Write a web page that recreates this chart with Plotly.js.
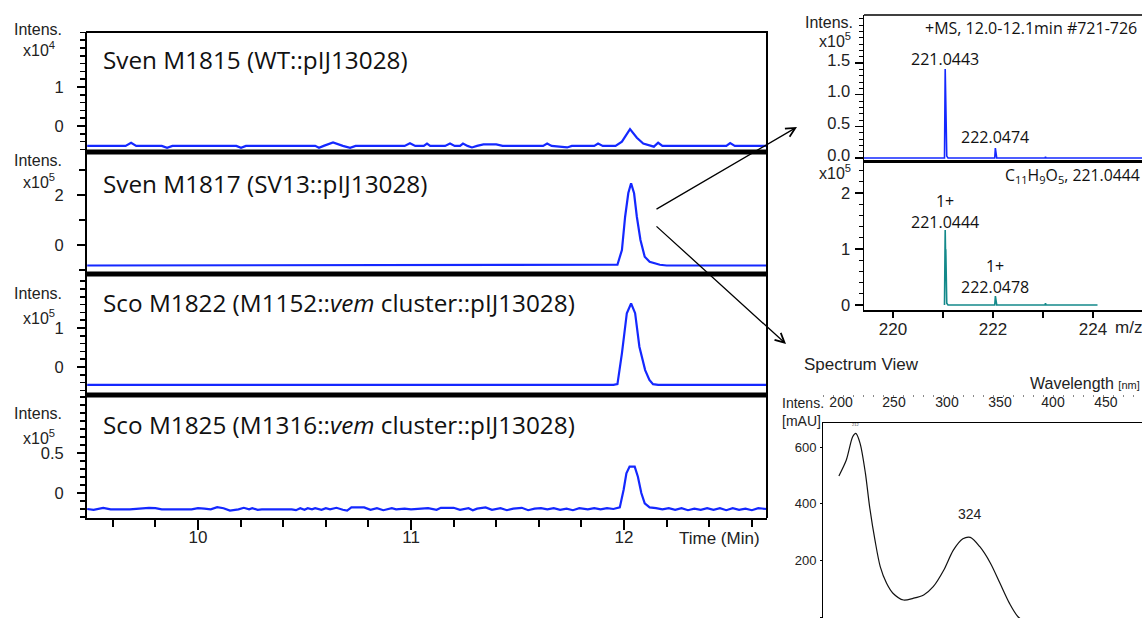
<!DOCTYPE html>
<html><head><meta charset="utf-8">
<script src="https://cdn.plot.ly/plotly-3.0.1.min.js"></script>
<style>html,body{margin:0;padding:0;background:#fff}#chart{width:1142px;height:618px}</style>
</head><body><div id="chart"></div>
<script>
// ---------- Chromatogram data (time in min, intensity in axis units) ----------
const t1 = [9.48,9.66,9.686,9.71,9.83,9.855,9.88,10.18,10.202,10.225,10.55,10.568,10.59,10.634,10.68,10.714,10.74,10.97,10.995,11.02,11.06,11.075,11.09,11.16,11.183,11.205,11.23,11.244,11.265,11.286,11.31,11.34,11.40,11.43,11.62,11.639,11.66,11.733,11.755,11.86,11.878,11.90,11.96,11.99,12.028,12.06,12.09,12.12,12.14,12.16,12.18,12.48,12.498,12.52,12.67];
const i1 = [-0.51,-0.51,-0.43,-0.51,-0.51,-0.56,-0.51,-0.51,-0.56,-0.51,-0.51,-0.56,-0.51,-0.42,-0.51,-0.56,-0.51,-0.51,-0.44,-0.51,-0.51,-0.45,-0.51,-0.51,-0.45,-0.51,-0.51,-0.45,-0.51,-0.55,-0.51,-0.47,-0.47,-0.51,-0.51,-0.45,-0.51,-0.55,-0.51,-0.51,-0.45,-0.51,-0.51,-0.40,-0.08,-0.30,-0.45,-0.49,-0.53,-0.43,-0.51,-0.51,-0.44,-0.51,-0.51];

const t2 = [9.48,11.95,11.969,11.99,12.005,12.02,12.033,12.047,12.06,12.077,12.097,12.12,12.168,12.2,12.67];
const i2 = [-0.82,-0.82,-0.79,-0.2,1.13,2.08,2.47,2.07,1.13,0.2,-0.47,-0.67,-0.79,-0.82,-0.82];

const t3 = [9.48,11.95,11.969,11.99,12.013,12.033,12.052,12.072,12.099,12.119,12.136,12.16,12.67];
const i3 = [-0.46,-0.46,-0.44,0.35,1.38,1.63,1.38,0.52,-0.08,-0.33,-0.44,-0.46,-0.46];

const t4 = [9.48,9.51,9.555,9.59,9.68,9.77,9.80,9.83,9.97,10.00,10.03,10.06,10.09,10.12,10.15,10.19,10.215,10.24,10.255,10.28,10.30,10.44,10.46,10.48,10.50,10.515,10.535,10.55,10.58,10.60,10.62,10.65,10.68,10.70,10.72,10.78,10.81,10.84,10.87,10.91,10.93,10.97,11.00,11.05,11.08,11.12,11.14,11.20,11.23,11.27,11.29,11.31,11.35,11.38,11.42,11.45,11.48,11.52,11.55,11.58,11.61,11.64,11.67,11.70,11.73,11.76,11.79,11.83,11.86,11.89,11.92,11.95,11.98,11.998,12.011,12.026,12.05,12.065,12.081,12.097,12.12,12.15,12.18,12.21,12.24,12.27,12.30,12.33,12.36,12.39,12.42,12.45,12.48,12.51,12.54,12.57,12.60,12.63,12.67];
const i4 = [-0.20,-0.21,-0.185,-0.205,-0.205,-0.185,-0.19,-0.205,-0.205,-0.19,-0.195,-0.205,-0.178,-0.19,-0.22,-0.205,-0.185,-0.205,-0.19,-0.21,-0.205,-0.205,-0.215,-0.19,-0.21,-0.19,-0.205,-0.19,-0.21,-0.19,-0.205,-0.185,-0.21,-0.22,-0.18,-0.18,-0.21,-0.19,-0.215,-0.19,-0.205,-0.195,-0.205,-0.195,-0.19,-0.21,-0.185,-0.185,-0.21,-0.19,-0.215,-0.195,-0.18,-0.21,-0.19,-0.215,-0.195,-0.185,-0.215,-0.195,-0.19,-0.205,-0.19,-0.21,-0.195,-0.215,-0.19,-0.205,-0.19,-0.205,-0.19,-0.20,-0.18,0.04,0.246,0.33,0.33,0.204,0.0,-0.13,-0.18,-0.19,-0.205,-0.19,-0.21,-0.19,-0.215,-0.195,-0.21,-0.19,-0.21,-0.19,-0.215,-0.19,-0.21,-0.195,-0.215,-0.19,-0.20];

const chromTitles = [
  "Sven M1815 (WT::pIJ13028)",
  "Sven M1817 (SV13::pIJ13028)",
  "Sco M1822 (M1152::<i>vem</i> cluster::pIJ13028)",
  "Sco M1825 (M1316::<i>vem</i> cluster::pIJ13028)"
];
const chromExp = ["4","5","5","5"];
const timeTicks = [10,11,12];

// ---------- Mass spectra (m/z, intensity x1e5) ----------
const mzMeasured = [219.42,221.03,221.044,221.05,221.056,221.06,221.066,221.075,221.1,222.035,222.047,222.06,222.075,223.04,223.05,223.06,224.98];
const intMeasured = [0,0,1.406,0.94,0.94,0.415,0.415,0.03,0,0,0.158,0.06,0,0,0.02,0,0];
const mzSim = [221.03,221.044,221.05,221.056,221.06,221.066,221.075,221.1,222.035,222.048,222.06,222.075,223.04,223.05,223.06,224.09];
const intSim = [0,1.34,0.98,0.98,0.61,0.61,0.03,0,0,0.16,0.05,0,0,0.03,0,0];
const msLabelsTop = [{mz:221.0443,t:"221.0443"},{mz:222.0474,t:"222.0474"}];
const msLabelsBot = [{mz:221.0444,t:"1+<br>221.0444"},{mz:222.0478,t:"1+<br>222.0478"}];

// ---------- UV spectrum (nm, mAU) ----------
const uvNm  = [198,205,211,214,218,223,227,232,237,243,249,259,268,278,287,297,306,315,322,331,341,350,359,367,378];
const uvMAU = [498,554,636,648,613,508,389,272,178,119,84,60,66,78,107,166,236,276,281,248,190,119,48,1,-28];
const uvTicks = [200,250,300,350,400,450];
const uvYTicks = [0,200,400,600];

// ---------- geometry helpers (pixel -> paper) ----------
const W=1142,H=618;
const px=p=>p/W, py=p=>1-p/H;
const BLUE='#1428ff', TEAL='#13898a';
const ARIAL='Liberation Sans, Arial, sans-serif';
const CAL='Open Sans, sans-serif';

const traces = [
  {x:t1,y:i1,xaxis:'x',yaxis:'y',mode:'lines',line:{color:BLUE,width:2.2}},
  {x:t2,y:i2,xaxis:'x2',yaxis:'y2',mode:'lines',line:{color:BLUE,width:2.2}},
  {x:t3,y:i3,xaxis:'x3',yaxis:'y3',mode:'lines',line:{color:BLUE,width:2.2}},
  {x:t4,y:i4,xaxis:'x4',yaxis:'y4',mode:'lines',line:{color:BLUE,width:2.2}},
  {x:mzMeasured,y:intMeasured,xaxis:'x5',yaxis:'y5',mode:'lines',line:{color:BLUE,width:1.6}},
  {x:mzSim,y:intSim,xaxis:'x6',yaxis:'y6',mode:'lines',line:{color:TEAL,width:1.6}},
  {x:uvNm,y:uvMAU,xaxis:'x7',yaxis:'y7',mode:'lines',line:{color:'#111',width:1.2,shape:'spline',smoothing:0.8}}
];

const chromX = [9.479,12.671];
const hiddenX = (anchor)=>({domain:[px(87),px(767)],range:chromX,anchor:anchor,showgrid:false,zeroline:false,showticklabels:false,ticks:'',showline:false,automargin:false});
const yBase = {showgrid:false,zeroline:false,showline:true,linewidth:2,linecolor:'#000',ticks:'outside',ticklen:8,tickwidth:2,tickcolor:'#000',
  tickfont:{family:ARIAL,size:16.5,color:'#222'},ticklabelstandoff:10,automargin:false};

const layout = {
  width:W,height:H,margin:{l:0,r:0,t:0,b:0},paper_bgcolor:'#fff',plot_bgcolor:'rgba(0,0,0,0)',showlegend:false,
  xaxis:hiddenX('y'), xaxis2:hiddenX('y2'), xaxis3:hiddenX('y3'),
  xaxis4:{domain:[px(87),px(767)],range:chromX,anchor:'y4',showgrid:false,zeroline:false,showline:true,linewidth:2,linecolor:'#000',
    tickvals:timeTicks,ticks:'outside',ticklen:10,tickwidth:2,tickcolor:'#000',
    minor:{dtick:0.2,tick0:0,ticks:'outside',ticklen:7,tickwidth:2,tickcolor:'#000'},
    tickfont:{family:ARIAL,size:17,color:'#222'},ticklabelstandoff:-7,automargin:false},
  yaxis:Object.assign({},yBase,{domain:[py(152),py(32)],range:[-0.667,2.41],anchor:'x',tickvals:[0,1],
    minor:{dtick:0.2,tick0:0,ticks:'outside',ticklen:5,tickwidth:1.5,tickcolor:'#000'}}),
  yaxis2:Object.assign({},yBase,{domain:[py(274),py(152)],range:[-1.16,3.72],anchor:'x2',tickvals:[0,2],
    minor:{dtick:1,tick0:0,ticks:'outside',ticklen:6,tickwidth:1.5,tickcolor:'#000'}}),
  yaxis3:Object.assign({},yBase,{domain:[py(395),py(274)],range:[-0.718,2.385],anchor:'x3',tickvals:[0,1],
    minor:{dtick:0.2,tick0:0,ticks:'outside',ticklen:5,tickwidth:1.5,tickcolor:'#000'}}),
  yaxis4:Object.assign({},yBase,{domain:[py(518),py(395)],range:[-0.3125,1.225],anchor:'x4',tickvals:[0,0.5],ticktext:['0','0.5'],
    minor:{dtick:0.1,tick0:0,ticks:'outside',ticklen:5,tickwidth:1.5,tickcolor:'#000'}}),

  xaxis5:{domain:[px(864),1],range:[219.42,224.98],anchor:'y5',showgrid:false,zeroline:false,showline:true,linewidth:3,linecolor:'#000',
    showticklabels:false,ticks:'',automargin:false},
  yaxis5:{domain:[py(160),py(15)],range:[-0.0316,2.258],anchor:'x5',showgrid:false,zeroline:false,showline:true,linewidth:1.5,linecolor:'#000',
    tickvals:[0,0.5,1,1.5],ticktext:['0.0','0.5','1.0','1.5'],ticks:'outside',ticklen:8,tickwidth:1.5,tickcolor:'#000',
    minor:{dtick:0.1,tick0:0,ticks:'outside',ticklen:4,tickwidth:1,tickcolor:'#000'},
    tickfont:{family:ARIAL,size:16.5,color:'#222'},ticklabelstandoff:1,ticklabelshift:-3,automargin:false},
  xaxis6:{domain:[px(864),1],range:[219.42,224.98],anchor:'y6',showgrid:false,zeroline:false,showline:true,linewidth:2,linecolor:'#000',
    tickvals:[220,222,224],ticks:'outside',ticklen:6,tickwidth:1.5,tickcolor:'#000',
    minor:{dtick:1,tick0:0,ticks:'outside',ticklen:6,tickwidth:1.5,tickcolor:'#000'},
    tickfont:{family:ARIAL,size:17,color:'#222'},ticklabelstandoff:-3,automargin:false},
  yaxis6:{domain:[py(310),py(162)],range:[-0.089,2.554],anchor:'x6',showgrid:false,zeroline:false,showline:true,linewidth:1.5,linecolor:'#000',
    tickvals:[0,1,2],ticks:'outside',ticklen:8,tickwidth:1.5,tickcolor:'#000',
    minor:{dtick:0.2,tick0:0,ticks:'outside',ticklen:4,tickwidth:1,tickcolor:'#000'},
    tickfont:{family:ARIAL,size:16.5,color:'#222'},ticklabelstandoff:1,automargin:false},

  xaxis7:{domain:[px(823),1],range:[183,484],anchor:'y7',side:'top',showgrid:false,zeroline:false,showline:true,linewidth:1,linecolor:'#000',
    tickvals:uvTicks,ticks:'',tickfont:{family:ARIAL,size:14,color:'#222'},ticklabelstandoff:9,automargin:false},
  yaxis7:{domain:[0,py(423)],range:[-3.5,684.7],anchor:'x7',showgrid:false,zeroline:false,showline:true,linewidth:1,linecolor:'#000',
    tickvals:uvYTicks,ticks:'outside',ticklen:2,tickwidth:1,tickcolor:'#000',
    tickfont:{family:ARIAL,size:13,color:'#222'},ticklabelstandoff:1,automargin:false},
  shapes:[],annotations:[]
};

const L=(x0,y0,x1,y1,w,extra)=>Object.assign({type:'line',xref:'paper',yref:'paper',x0:px(x0),y0:py(y0),x1:px(x1),y1:py(y1),line:{color:'#000',width:w}},extra||{});
layout.shapes.push(
  L(86,32,768,32,2), L(767,32,767,518,2),
  L(86,152,768,152,5), L(86,274,768,274,5), L(86,395,768,395,5),
  L(864,15,1142,15,1.5),
  L(823,396,1142,396,2,{line:{color:'#666',width:1.5,dash:'1px,9px'}})
);

const A=(x,y,text,opt)=>Object.assign({xref:'paper',yref:'paper',x:px(x),y:py(y),text:text,showarrow:false,xanchor:'center',yanchor:'middle',
  font:{family:ARIAL,size:16,color:'#222'}},opt||{});

// left chromatogram labels
const intensY=[30,160,293,413], expY=[49,181,317,437], titleY=[59,183,302,424];
for(let k=0;k<4;k++){
  layout.annotations.push(A(38,intensY[k],'Intens.'));
  layout.annotations.push(A(39,expY[k],'x10<sup>'+chromExp[k]+'</sup>'));
  layout.annotations.push(A(101,titleY[k],chromTitles[k],{xanchor:'left',font:{family:CAL,size:24.3,color:'#111'}}));
}
layout.annotations.push(A(720,538,'Time (Min)',{font:{family:ARIAL,size:17,color:'#222'}}));

// mass spectra labels
layout.annotations.push(A(829,22,'Intens.'));
layout.annotations.push(A(835,40,'x10<sup>5</sup>'));
layout.annotations.push(A(835,172,'x10<sup>5</sup>'));
layout.annotations.push(A(923,28,'+MS, 12.0-12.1min #721-726',{xanchor:'left',font:{family:CAL,size:16,color:'#111'}}));
layout.annotations.push(A(1003,175,'C<sub>11</sub>H<sub>9</sub>O<sub>5</sub>, 221.0444',{xanchor:'left',font:{family:CAL,size:15.8,color:'#111'}}));
layout.annotations.push({xref:'x5',yref:'paper',x:msLabelsTop[0].mz,y:py(59),text:msLabelsTop[0].t,showarrow:false,yanchor:'middle',font:{family:CAL,size:16,color:'#111'}});
layout.annotations.push({xref:'x5',yref:'paper',x:msLabelsTop[1].mz,y:py(137.5),text:msLabelsTop[1].t,showarrow:false,yanchor:'middle',font:{family:CAL,size:16,color:'#111'}});
layout.annotations.push({xref:'x6',yref:'paper',x:msLabelsBot[0].mz,y:py(211),text:msLabelsBot[0].t,showarrow:false,yanchor:'middle',font:{family:CAL,size:16,color:'#111'}});
layout.annotations.push({xref:'x6',yref:'paper',x:msLabelsBot[1].mz,y:py(276),text:msLabelsBot[1].t,showarrow:false,yanchor:'middle',font:{family:CAL,size:16,color:'#111'}});
layout.annotations.push(A(1128,327,'m/z',{font:{family:ARIAL,size:17,color:'#222'}}));

// UV labels
layout.annotations.push(A(802,364,'Spectrum View',{xanchor:'left',font:{family:ARIAL,size:17,color:'#222'}}));
layout.annotations.push(A(1142,383,'Wavelength <span style="font-size:11px">[nm]</span>',{xanchor:'right',font:{family:ARIAL,size:16,color:'#222'}}));
layout.annotations.push(A(780,403,'Intens.',{xanchor:'left',font:{family:ARIAL,size:14,color:'#222'}}));
layout.annotations.push(A(780,421,'[mAU]',{xanchor:'left',font:{family:ARIAL,size:14,color:'#222'}}));
layout.annotations.push({xref:'x7',yref:'paper',x:322,y:py(524),text:'324',showarrow:false,font:{family:ARIAL,size:14,color:'#222'}});
layout.annotations.push({xref:'x7',yref:'paper',x:214,y:py(429),text:'212',showarrow:false,font:{family:ARIAL,size:4,color:'#444'}});

// arrows
layout.annotations.push({xref:'paper',yref:'paper',x:px(797),y:py(127),ax:-142,ay:83,text:'',showarrow:true,arrowhead:5,arrowsize:1.4,arrowwidth:1.3,arrowcolor:'#000',standoff:0});
layout.annotations.push({xref:'paper',yref:'paper',x:px(786),y:py(344),ax:-131,ay:-119,text:'',showarrow:true,arrowhead:5,arrowsize:1.4,arrowwidth:1.3,arrowcolor:'#000',standoff:0});

Plotly.newPlot('chart',traces,layout,{displayModeBar:false,staticPlot:true});
</script></body></html>
